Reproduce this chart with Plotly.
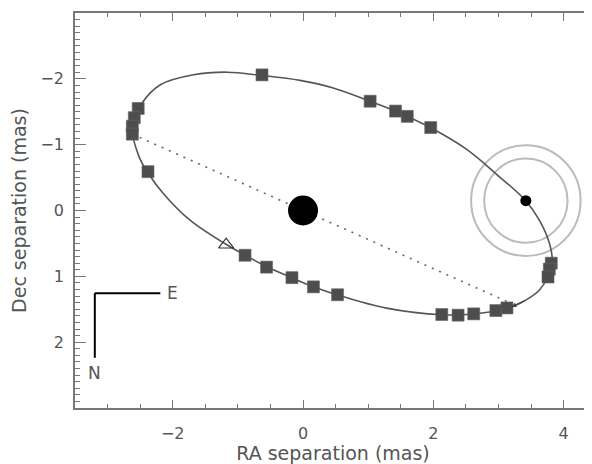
import plotly.graph_objects as go

# ---- data (mas) ----
orbit_ra = [1.026, 1.420, 1.960, 2.507, 2.966, 3.415, 3.629, 3.783, 3.824, 3.757,
            3.629, 3.426, 3.220, 2.956, 2.619, 2.129, 1.282, 0.531, 0.158, -0.173,
            -0.556, -0.888, -1.184, -1.730, -2.139, -2.369, -2.522, -2.623, -2.470,
            -2.190, -1.680, -1.168, -0.632, -0.046, 0.464, 1.026]
orbit_dec = [-1.659, -1.508, -1.256, -0.931, -0.554, -0.151, 0.151, 0.502, 0.754, 1.006,
             1.207, 1.357, 1.459, 1.523, 1.573, 1.584, 1.483, 1.282, 1.157, 1.021,
             0.855, 0.679, 0.513, 0.151, -0.252, -0.554, -0.830, -1.282, -1.633,
             -1.911, -2.062, -2.101, -2.051, -1.976, -1.860, -1.659]

obs_ra = [-0.63, -2.53, -2.59, -2.62, -2.62, -2.38, 1.03, 1.42, 1.60, 1.96,
          -0.89, -0.56, -0.17, 0.16, 0.53, 2.13, 2.38, 2.62, 2.96, 3.13,
          3.81, 3.78, 3.76]
obs_dec = [-2.06, -1.55, -1.41, -1.28, -1.16, -0.59, -1.66, -1.51, -1.43, -1.26,
           0.68, 0.86, 1.02, 1.16, 1.28, 1.58, 1.59, 1.57, 1.52, 1.48,
           0.80, 0.89, 1.01]

tri_ra = [-1.18]
tri_dec = [0.52]

primary_ra = [0.0]
primary_dec = [0.0]

comp_ra = [3.42]
comp_dec = [-0.15]
comp_circle_radii = [0.64, 0.84]

node_ra = [-2.62, 3.17]
node_dec = [-1.16, 1.40]

x_ticks = [-2, 0, 2, 4]
y_ticks = [-2, -1, 0, 1, 2]

# ---- figure ----
fig = go.Figure()

fig.add_trace(go.Scatter(x=orbit_ra, y=orbit_dec, mode="lines",
                         line=dict(color="#555555", width=1.6, shape="spline", smoothing=1.0),
                         hoverinfo="skip", showlegend=False))
fig.add_trace(go.Scatter(x=node_ra, y=node_dec, mode="lines",
                         line=dict(color="#666666", width=1.6, dash="2px,6px"),
                         hoverinfo="skip", showlegend=False))
fig.add_trace(go.Scatter(x=obs_ra, y=obs_dec, mode="markers",
                         marker=dict(symbol="square", size=12, color="#4d4d4d",
                                     line=dict(width=0.6, color="#666666")),
                         showlegend=False))
fig.add_trace(go.Scatter(x=tri_ra, y=tri_dec, mode="markers",
                         marker=dict(symbol="triangle-up-open", size=13, color="#333333",
                                     line=dict(width=1.2)),
                         showlegend=False))
fig.add_trace(go.Scatter(x=primary_ra, y=primary_dec, mode="markers",
                         marker=dict(symbol="circle", size=30, color="black"),
                         showlegend=False))
fig.add_trace(go.Scatter(x=comp_ra, y=comp_dec, mode="markers",
                         marker=dict(symbol="circle", size=11, color="black"),
                         showlegend=False))
# dummy trace for right-side tick axis
fig.add_trace(go.Scatter(x=[0], y=[0], yaxis="y2", mode="markers",
                         marker=dict(opacity=0), hoverinfo="skip", showlegend=False))

for r in comp_circle_radii:
    fig.add_shape(type="circle", xref="x", yref="y",
                  x0=comp_ra[0] - r, x1=comp_ra[0] + r,
                  y0=comp_dec[0] - r, y1=comp_dec[0] + r,
                  line=dict(color="#bbbbbb", width=2), layer="below")

# direction arrow on orbit
fig.add_annotation(x=3.20, y=1.465, ax=3.42, ay=1.36, xref="x", yref="y",
                   axref="x", ayref="y", text="", showarrow=True,
                   arrowhead=2, arrowsize=0.8, arrowwidth=1.2, arrowcolor="#444444")

FAMILY = "DejaVu Sans, Verdana, sans-serif"
font = dict(family=FAMILY, size=16, color="#555555")
title_font = dict(family=FAMILY, size=19, color="#555555")

# compass N/E
fig.add_shape(type="line", xref="x", yref="y", x0=-3.196, y0=1.256, x1=-2.19, y1=1.256,
              line=dict(color="black", width=2))
fig.add_shape(type="line", xref="x", yref="y", x0=-3.196, y0=1.256, x1=-3.196, y1=2.237,
              line=dict(color="black", width=2))
fig.add_annotation(x=-2.0, y=1.256, text="E", showarrow=False, xref="x", yref="y",
                   font=dict(family=FAMILY, size=17, color="#555555"))
fig.add_annotation(x=-3.196, y=2.47, text="N", showarrow=False, xref="x", yref="y",
                   font=dict(family=FAMILY, size=17, color="#555555"))

# page body has an 8px default margin: size the figure to fill the rest of the window
fig.update_layout(
    width=584, height=456,
    margin=dict(l=67, r=1, t=5, b=56),
    plot_bgcolor="white", paper_bgcolor="white",
    font=font,
    xaxis=dict(range=[-3.5, 4.42], tickvals=x_ticks, ticks="inside", ticklen=8,
               tickcolor="#777777", tickwidth=1.2,
               minor=dict(dtick=0.5, tick0=0, ticks="inside", ticklen=4, tickcolor="#777777"),
               showline=True, linecolor="#777777", linewidth=1.5, mirror="ticks",
               showgrid=False, zeroline=False, automargin=False,
               ticklabelstandoff=10,
               title=dict(text="RA separation (mas)", standoff=3, font=title_font)),
    yaxis=dict(range=[3, -3], tickvals=y_ticks, ticks="inside", ticklen=11,
               tickcolor="#777777", tickwidth=1.2,
               minor=dict(dtick=0.1, tick0=0, ticks="inside", ticklen=5, tickcolor="#777777"),
               showline=True, linecolor="#777777", linewidth=1.5, mirror=False,
               showgrid=False, zeroline=False, automargin=False,
               ticklabelstandoff=6,
               title=dict(text="Dec separation (mas)", standoff=12, font=title_font)),
    yaxis2=dict(range=[3, -3], tickvals=y_ticks, ticks="inside", ticklen=6,
                tickcolor="#777777", overlaying="y", side="right", automargin=False,
                showticklabels=False, showline=True, linecolor="#cccccc",
                linewidth=1, showgrid=False, zeroline=False),
)

fig.write_html("out.html")
